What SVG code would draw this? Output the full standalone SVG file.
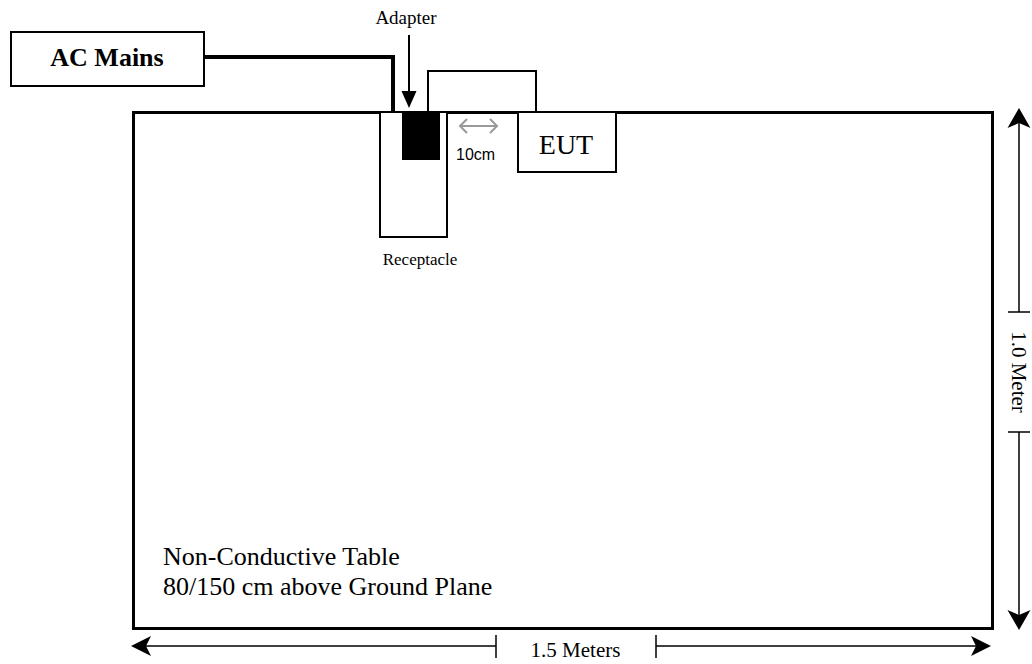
<svg xmlns="http://www.w3.org/2000/svg" width="1032" height="664" viewBox="0 0 1032 664">
<style>
.serif{font-family:"Liberation Serif","Times New Roman",serif;fill:#000}
.sans{font-family:"Liberation Sans",Arial,sans-serif;fill:#000}
.box{fill:#fff;stroke:#000;stroke-width:2}
.thin{fill:none;stroke:#000;stroke-width:1.5}
</style>
<rect width="1032" height="664" fill="#fff"/>
<g id="table">
<rect x="133.5" y="112.5" width="859" height="516" fill="#fff" stroke="#000" stroke-width="3"/>
<text class="serif" x="163" y="565" font-size="26">Non-Conductive Table</text>
<text class="serif" x="163" y="595" font-size="26">80/150 cm above Ground Plane</text>
</g>
<g id="ac-mains">
<rect class="box" x="11" y="32" width="193" height="54"/>
<text class="serif" x="107" y="66" font-size="26" font-weight="bold" text-anchor="middle">AC Mains</text>
</g>
<g id="receptacle">
<rect class="box" x="380" y="112" width="67" height="125"/>
<text class="serif" x="420" y="265" font-size="17" text-anchor="middle">Receptacle</text>
</g>
<g id="adapter">
<rect x="402" y="112" width="38" height="48" fill="#000"/>
<text class="serif" x="406" y="24" font-size="19" text-anchor="middle">Adapter</text>
</g>
<g id="eut">
<path d="M428,112 V71 H536 V112" fill="none" stroke="#000" stroke-width="2"/>
<rect class="box" x="518" y="112" width="98" height="60"/>
<text class="serif" x="566" y="154" font-size="28" text-anchor="middle">EUT</text>
</g>
<g id="connectors">
<path d="M204,57 H393 V112" fill="none" stroke="#000" stroke-width="4"/>
<line x1="409" y1="35" x2="409" y2="94" stroke="#000" stroke-width="2"/>
<polygon points="409,108 401.5,91 416.5,91" fill="#000"/>
<g stroke="#999" stroke-width="2" fill="none">
<line x1="460" y1="126" x2="497" y2="126"/>
<polyline points="467,119 460,126 467,133"/>
<polyline points="490,119 497,126 490,133"/>
</g>
<text class="sans" x="456" y="160" font-size="16">10cm</text>
</g>
<g id="dim-vertical">
<line class="thin" x1="1019" y1="115" x2="1019" y2="312"/>
<line class="thin" x1="1019" y1="432" x2="1019" y2="623"/>
<line class="thin" x1="1008" y1="312" x2="1030" y2="312"/>
<line class="thin" x1="1008" y1="432" x2="1030" y2="432"/>
<polygon points="1019,108 1030.5,128 1019,123 1007.5,128" fill="#000"/>
<polygon points="1019,630 1030.5,610 1019,615 1007.5,610" fill="#000"/>
<text class="serif" x="0" y="0" font-size="21" text-anchor="middle" transform="translate(1012,372) rotate(90)">1.0 Meter</text>
</g>
<g id="dim-horizontal">
<line class="thin" x1="138" y1="646" x2="496" y2="646"/>
<line class="thin" x1="656" y1="646" x2="984" y2="646"/>
<line class="thin" x1="496" y1="635" x2="496" y2="658"/>
<line class="thin" x1="656" y1="635" x2="656" y2="658"/>
<polygon points="131,646 151,636 146,646 151,656" fill="#000"/>
<polygon points="991,646 971,636 976,646 971,656" fill="#000"/>
<text class="serif" x="575.5" y="657" font-size="21" text-anchor="middle">1.5 Meters</text>
</g>
</svg>
